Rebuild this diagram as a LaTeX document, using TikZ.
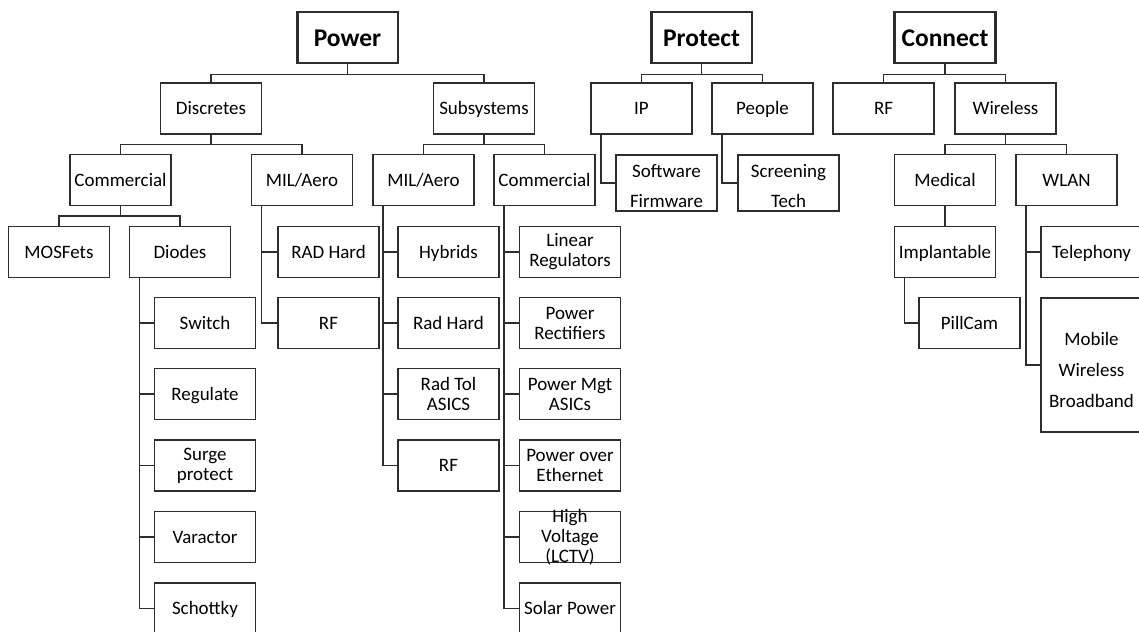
\documentclass[tikz,border=0pt]{standalone}
\usepackage{fontspec}
\setmainfont{Carlito}
\usepackage{tikz}
\usetikzlibrary{positioning}
\definecolor{boxline}{RGB}{45,45,45}
\tikzset{frame/.style={draw=boxline, line width=0.85pt, minimum width=2.02cm, minimum height=1.02cm, inner sep=1pt, align=center, font=\fontsize{10.8}{11.4}\selectfont}}
\tikzset{box/.style={frame, text height=7.3pt, text depth=0pt}}
\tikzset{head/.style={box, line width=1.7pt, text height=10pt, font=\fontsize{14.5}{16}\selectfont\bfseries}}
\tikzset{link/.style={draw=boxline, line width=0.85pt}}
\tikzset{words/.style={font=\fontsize{10.8}{11.4}\selectfont, align=center, inner sep=0pt}}
\newcommand{\fork}[3]{\draw[link] (#1.south) -- ++(0,10) -| (#2.north); \draw[link] (#1.south) -- ++(0,10) -| (#3.north);}
\newcommand{\side}[2]{\draw[link] ([xshift=0.21cm]#1.south west) |- (#2.west);}

\begin{document}
\begin{tikzpicture}[x=0.02cm, y=-0.02cm]
\useasboundingbox (0,0) rectangle (1139,632);
\clip (0,0) rectangle (1139,632);
% Power
\node[head] (power) at (347.5,37.5) {Power};
\node[box] (disc) at (211,108.5) {Discretes};
\node[box] (subs) at (484,108.5) {Subsystems};
\fork{power}{disc}{subs}
\node[box] (dcom) at (120.5,180) {Commercial};
\node[box] (dmil) at (302,180) {MIL/Aero};
\fork{disc}{dcom}{dmil}
\node[box] (mosf) at (59,252) {MOSFets};
\node[box] (diod) at (180,252) {Diodes};
\fork{dcom}{mosf}{diod}
\node[box] (swit) at (205,323) {Switch};
\node[box] (regu) at (205,394) {Regulate};
\node[frame] (surg) at (205,465.5) {Surge\\protect};
\node[box] (vara) at (205,537) {Varactor};
\node[box] (scho) at (205,608.5) {Schottky};
\side{diod}{swit} \side{diod}{regu} \side{diod}{surg} \side{diod}{vara} \side{diod}{scho}
\node[box] (drad) at (328.5,252) {RAD Hard};
\node[box] (drf) at (328.5,323) {RF};
\side{dmil}{drad} \side{dmil}{drf}
\node[box] (smil) at (423.5,180) {MIL/Aero};
\node[box] (scom) at (544.5,180) {Commercial};
\fork{subs}{smil}{scom}
\node[box] (hybr) at (448.5,252) {Hybrids};
\node[box] (srad) at (448.5,323) {Rad Hard};
\node[frame] (rtol) at (448.5,394) {Rad Tol\\ASICS};
\node[box] (srf) at (448.5,465.5) {RF};
\side{smil}{hybr} \side{smil}{srad} \side{smil}{rtol} \side{smil}{srf}
\node[frame] (lreg) at (570,252) {Linear\\Regulators};
\node[frame] (prec) at (570,323) {Power\\Rectifiers};
\node[frame] (pmgt) at (570,394) {Power Mgt\\ASICs};
\node[frame] (poe) at (570,465.5) {Power over\\Ethernet};
\node[frame] (hvol) at (570,537) {};
\node[words] (hvtxt) at (hvol) {High\\Voltage\\(LCTV)};
\node[box] (sola) at (570,608.5) {Solar Power};
\side{scom}{lreg} \side{scom}{prec} \side{scom}{pmgt} \side{scom}{poe} \side{scom}{hvol} \side{scom}{sola}
% Protect
\node[head] (prot) at (701.5,37.5) {Protect};
\node[box] (ip) at (641.5,108.5) {IP};
\node[box] (peop) at (762.5,108.5) {People};
\fork{prot}{ip}{peop}
\node[frame, minimum height=1.12cm] (soft) at (666.5,183) {};
\node[words] (softtxt) at ([yshift=-0.06cm]soft.center) {Software\\[6pt]Firmware};
\node[frame, minimum height=1.12cm] (scrn) at (788.5,183) {};
\node[words] (scrntxt) at ([yshift=-0.06cm]scrn.center) {Screening\\[6pt]Tech};
\side{ip}{soft} \side{peop}{scrn}
% Connect
\node[head] (conn) at (945,37.5) {Connect};
\node[box] (crf) at (883.5,108.5) {RF};
\node[box] (wire) at (1005.5,108.5) {Wireless};
\fork{conn}{crf}{wire}
\node[box] (medi) at (945,180) {Medical};
\node[box] (wlan) at (1066.5,180) {WLAN};
\fork{wire}{medi}{wlan}
\node[box] (impl) at (945,252) {Implantable};
\draw[link] (medi) -- (impl);
\node[box] (pill) at (969.5,323) {PillCam};
\side{impl}{pill}
\node[box] (tele) at (1091.5,252) {Telephony};
\node[frame, minimum height=2.68cm] (mobi) at (1091.5,365) {};
\node[words] (mobitxt) at ([yshift=-0.1cm]mobi.center) {Mobile\\[6pt]Wireless\\[6pt]Broadband};
\side{wlan}{tele} \side{wlan}{mobi}
\end{tikzpicture}
\end{document}
